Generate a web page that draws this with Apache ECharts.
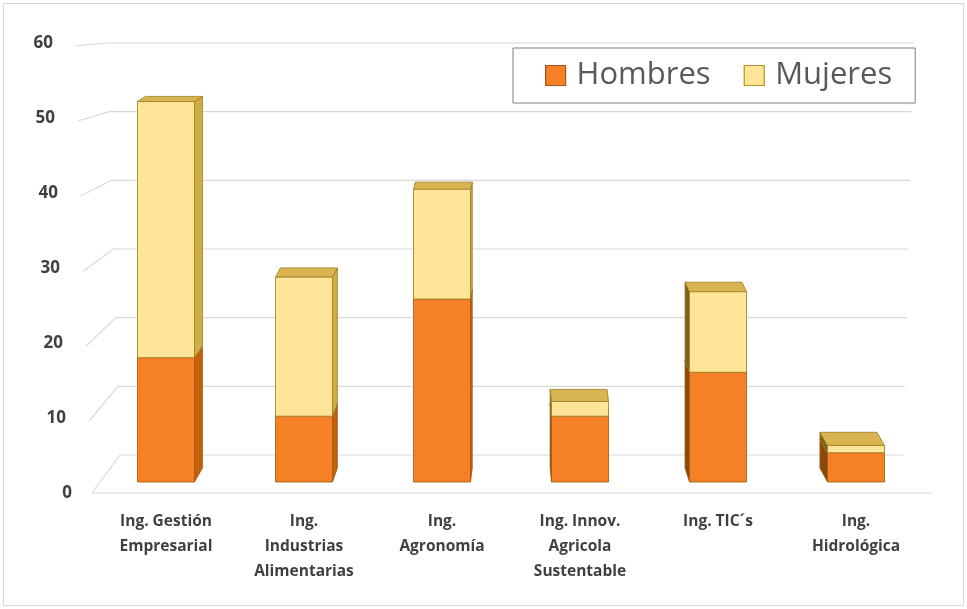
<!DOCTYPE html>
<html><head><meta charset="utf-8">
<script src="https://cdn.jsdelivr.net/npm/echarts@6/dist/echarts.min.js"></script>
<style>
html,body{margin:0;padding:0;background:#fff;}
#frame{position:absolute;left:3px;top:3px;width:959px;height:601px;border:1px solid #d9d9d9;}
#chart{position:absolute;left:0;top:0;width:967px;height:609px;}
</style>
</head><body><div id="frame"></div><div id="chart"></div>
<script>
const categories = ['Ing. Gestión\nEmpresarial', 'Ing.\nIndustrias\nAlimentarias', 'Ing.\nAgronomía', 'Ing. Innov.\nAgricola\nSustentable', 'Ing. TIC´s', 'Ing.\nHidrológica'];
const hombres = [17, 9, 25, 9, 15, 4];
const mujeres = [35, 19, 15, 2, 11, 1];
const yTicks = [0, 10, 20, 30, 40, 50, 60];
const seriesNames = ['Hombres', 'Mujeres'];

const hData = categories.map((c, i) => [i, 0, hombres[i]]);
const mData = categories.map((c, i) => [i, hombres[i], hombres[i] + mujeres[i]]);
const wallData = yTicks.map(v => [0, v]);

const palette = {
  Hombres: { front: '#F58025', top: '#D98A3A', right: '#C4600E', left: '#8A4A0C', stroke: '#9A5A12' },
  Mujeres: { front: '#FEE598', top: '#D9B552', right: '#D2AC45', left: '#7A6220', stroke: '#9C7C1E' }
};

function barRenderer(name) {
  const col = palette[name];
  return function (params, api) {
    const c = api.value(0), v0 = api.value(1), v1 = api.value(2);
    const cs = params.coordSys;
    const k = 0.9756;
    const yF0 = api.coord([c, v0])[1], yF1 = api.coord([c, v1])[1];
    const y0 = cs.y + (yF0 - cs.y) * k, y1 = cs.y + (yF1 - cs.y) * k;
    const cx = api.coord([c, 0])[0];
    const w = 57;
    const xl = cx - w / 2, xr = cx + w / 2;
    const vx = cs.x + cs.width * 0.51;
    const sdx = (vx - cx) * 0.0225;
    const dy0 = 14 - 0.17 * v0, dy1 = 14 - 0.17 * v1;
    const sx = sdx >= 0 ? xr : xl;
    const lw = 0.8;
    const children = [];
    children.push({
      type: 'polygon',
      shape: { points: [[sx, y0], [sx, y1], [sx + sdx, y1 - dy1], [sx + sdx, y0 - dy0]] },
      style: { fill: sdx >= 0 ? col.right : col.left, stroke: col.stroke, lineWidth: lw }
    });
    children.push({
      type: 'polygon',
      shape: { points: [[xl, y1], [xr, y1], [xr + sdx, y1 - dy1], [xl + sdx, y1 - dy1]] },
      style: { fill: col.top, stroke: col.stroke, lineWidth: lw }
    });
    children.push({
      type: 'rect',
      shape: { x: xl, y: y1, width: w, height: y0 - y1 },
      style: { fill: col.front, stroke: col.stroke, lineWidth: lw }
    });
    return { type: 'group', children: children };
  };
}

function wallRenderer(params, api) {
  const v = api.value(1);
  const cs = params.coordSys;
  const yF = api.coord([0, v])[1];
  const yB = cs.y + (yF - cs.y) * (412 / 450);
  const t = v / 60;
  const xF = cs.x - 5 - 17 * t;
  const xB = cs.x + 23 - 13 * t;
  const xR = cs.x + cs.width - 22 + 10 * t;
  const children = [{
    type: 'polyline',
    shape: { points: [[xF, yF + (v === 0 ? 0 : 3)], [xB, yB], [xR, yB]] },
    style: { stroke: '#d9d9d9', lineWidth: 1.2, fill: null }
  }];
  if (v === 0) {
    children.push({
      type: 'line',
      shape: { x1: xF, y1: yF, x2: cs.x + cs.width + 7, y2: yF },
      style: { stroke: '#d9d9d9', lineWidth: 1.2 }
    });
  }
  return { type: 'group', children: children };
}

const labelFont = { fontFamily: 'Open Sans', fontWeight: 'bold', fontSize: 17, color: '#404040' };
const yPad = { 0: 0, 10: 6, 20: 9, 30: 12, 40: 14, 50: 17, 60: 19 };
const yRich = {};
yTicks.forEach(v => { yRich['t' + v] = Object.assign({ padding: [0, yPad[v], 0, 0] }, labelFont); });

const chart = echarts.init(document.getElementById('chart'), null, { renderer: 'canvas' });
chart.setOption({
  backgroundColor: 'transparent',
  animation: false,
  grid: { left: 97, right: 42, top: 43, bottom: 116, containLabel: false },
  legend: {
    left: 513, top: 48,
    data: [
      { name: 'Hombres', itemStyle: { color: palette.Hombres.front, borderColor: '#A0561A', borderWidth: 1.2 } },
      { name: 'Mujeres', itemStyle: { color: palette.Mujeres.front, borderColor: '#B89020', borderWidth: 1.2 } }
    ],
    icon: 'rect', itemWidth: 20, itemHeight: 20, itemGap: 33,
    padding: [12, 23, 12, 32],
    borderColor: '#7f7f7f', borderWidth: 1, backgroundColor: '#fff',
    textStyle: { fontFamily: 'Open Sans', fontSize: 31, color: '#595959', padding: [0, 0, 0, 6] }
  },
  xAxis: {
    type: 'category', data: categories,
    axisLine: { show: false }, axisTick: { show: false }, splitLine: { show: false },
    axisLabel: {
      interval: 0, margin: 16, verticalAlign: 'top',
      fontFamily: 'Open Sans', fontWeight: 'bold', fontSize: 15.5, color: '#404040', lineHeight: 25
    }
  },
  yAxis: {
    type: 'value', min: 0, max: 60, interval: 10,
    axisLine: { show: false }, axisTick: { show: false }, splitLine: { show: false },
    axisLabel: {
      margin: 25,
      formatter: v => '{t' + v + '|' + v + '}',
      rich: yRich
    }
  },
  series: [
    { type: 'custom', name: 'wall', data: wallData, encode: { x: 0, y: 1 }, renderItem: wallRenderer, silent: true, z: 1 },
    { type: 'custom', name: 'Hombres', data: hData, encode: { x: 0, y: [1, 2] }, renderItem: barRenderer('Hombres'), z: 2,
      itemStyle: { color: palette.Hombres.front } },
    { type: 'custom', name: 'Mujeres', data: mData, encode: { x: 0, y: [1, 2] }, renderItem: barRenderer('Mujeres'), z: 3,
      itemStyle: { color: palette.Mujeres.front } }
  ]
});
</script>
</body></html>
